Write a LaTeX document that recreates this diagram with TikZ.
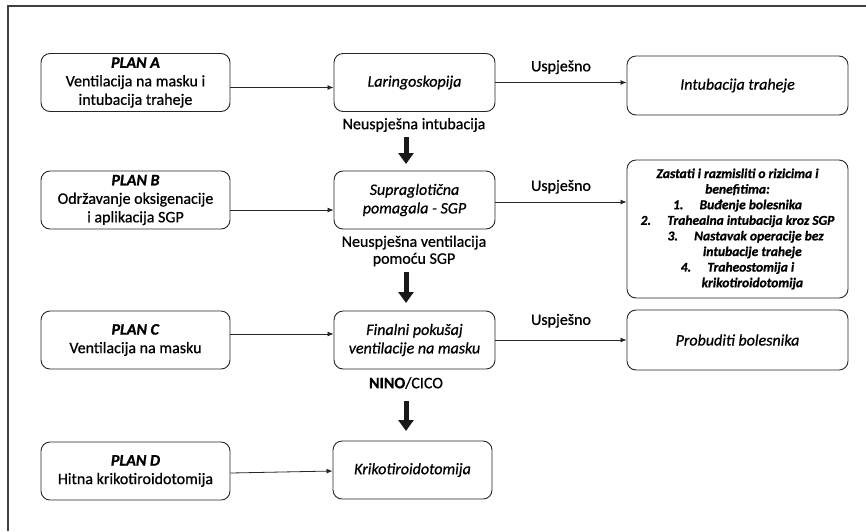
\documentclass[tikz,border=0pt]{standalone}
\usepackage{fontspec}
\setmainfont{Carlito}[
  UprightFeatures={FakeBold=0.7},
  ItalicFeatures={FakeBold=0.7},
  BoldFont={Carlito Bold},
  BoldItalicFont={Carlito Bold Italic},
  BoldFeatures={FakeBold=1.0},
  BoldItalicFeatures={FakeBold=1.0}]
\usetikzlibrary{arrows.meta}
\tikzset{
  box/.style={draw=black!85, line width=0.9pt, rounded corners=9pt, align=center, font=\fontsize{16}{18.5}\selectfont, inner sep=2pt},
  plan/.style={box, minimum width=189pt, minimum height=58pt},
  mid/.style={box, minimum width=161pt, minimum height=58pt, font=\fontsize{16}{18.5}\selectfont\itshape},
  res/.style={box, minimum width=221pt, minimum height=59pt, font=\fontsize{16}{18.5}\selectfont\itshape},
  conn/.style={draw=black!85, line width=0.8pt, -{Latex[length=6pt,width=5pt]}},
  thick/.style={draw=black!90, line width=5pt, -{Triangle[length=11pt,width=15pt]}},
  lbl/.style={font=\fontsize{16}{17}\selectfont, align=center, inner sep=0pt},
}
\begin{document}
\begin{tikzpicture}[x=1pt,y=-1pt]
\useasboundingbox (0,0) rectangle (866,531);
\draw[black!75, line width=1.3pt] (8,531) -- (8,6) -- (866,6);
% plans
\node[plan] (pa) at (135.5,82.5) {\textbf{\textit{PLAN A}}\\Ventilacija na masku i\\intubacija traheje};
\node[plan] (pb) at (135.5,200) {\textbf{\textit{PLAN B}}\\Održavanje oksigenacije\\i aplikacija SGP};
\node[plan] (pc) at (135.5,340) {\textbf{\textit{PLAN C}}\\Ventilacija na masku};
\node[plan] (pd) at (135.5,471) {\textbf{\textit{PLAN D}}\\Hitna krikotiroidotomija};
% middle
\node[mid] (m1) at (414.5,82.5) {Laringoskopija};
\node[mid] (m2) at (414.5,200) {Supraglotična\\pomagala - SGP};
\node[mid] (m3) at (414.5,340) {Finalni pokušaj\\ventilacije na masku};
\node[mid, minimum width=159pt] (m4) at (412.5,470) {Krikotiroidotomija};
% right
\node[res] (r1) at (737.5,85.5) {Intubacija traheje};
\node[res, minimum height=138pt, font=\fontsize{13.5}{15.6}\selectfont\bfseries\itshape] (r2) at (737.5,229)
 {Zastati i razmisliti o rizicima i\\benefitima:\\1.\hspace{1.2em}Buđenje bolesnika\\2.\hspace{1.2em}Trahealna intubacija kroz SGP\\\hspace*{1.2em}3.\hspace{1.2em}Nastavak operacije bez\\\hspace*{2.2em}intubacije traheje\\4.\hspace{1.2em}Traheostomija i\\\hspace*{2.2em}krikotiroidotomija};
\node[res, minimum height=60pt] (r3) at (737.5,340) {Probuditi bolesnika};
% connectors plan -> middle
\draw[conn] ([yshift=-5pt]pa.east) -- ([yshift=-5pt]m1.west);
\draw[conn] ([yshift=-10pt]pb.east) -- ([yshift=-10pt]m2.west);
\draw[conn] ([yshift=6pt]pc.east) -- ([yshift=6pt]m3.west);
\draw[conn] ([yshift=-2pt]pd.east) -- ([yshift=-1pt]m4.west);
% middle -> right
\draw[conn] (m1.east) -- node[lbl, above=8pt] (u1) {Uspješno} (m1.east -| r1.west);
\draw[conn] ([yshift=-2pt]m2.east) -- node[lbl, above=8pt] (u2) {Uspješno} ([yshift=-2pt]m2.east -| r2.west);
\draw[conn] (m3.east) -- node[lbl, above=12pt] (u3) {Uspješno} (m3.east -| r3.west);
% vertical labels and thick arrows
\node[lbl] (f1) at (414,125) {Neuspješna intubacija};
\node[lbl] (f2) at (414,251) {Neuspješna ventilacija\\pomoću SGP};
\node[lbl] (f3) at (406,383) {\textbf{NINO}/CICO};
\coordinate (t1) at (406,137);
\coordinate (h1) at (406,164);
\coordinate (t2) at (406,272);
\coordinate (h2) at (406,303);
\coordinate (t3) at (406,401);
\coordinate (h3) at (406,431);
\draw[thick] (t1) -- (h1);
\draw[thick] (t2) -- (h2);
\draw[thick] (t3) -- (h3);
\end{tikzpicture}
\end{document}
